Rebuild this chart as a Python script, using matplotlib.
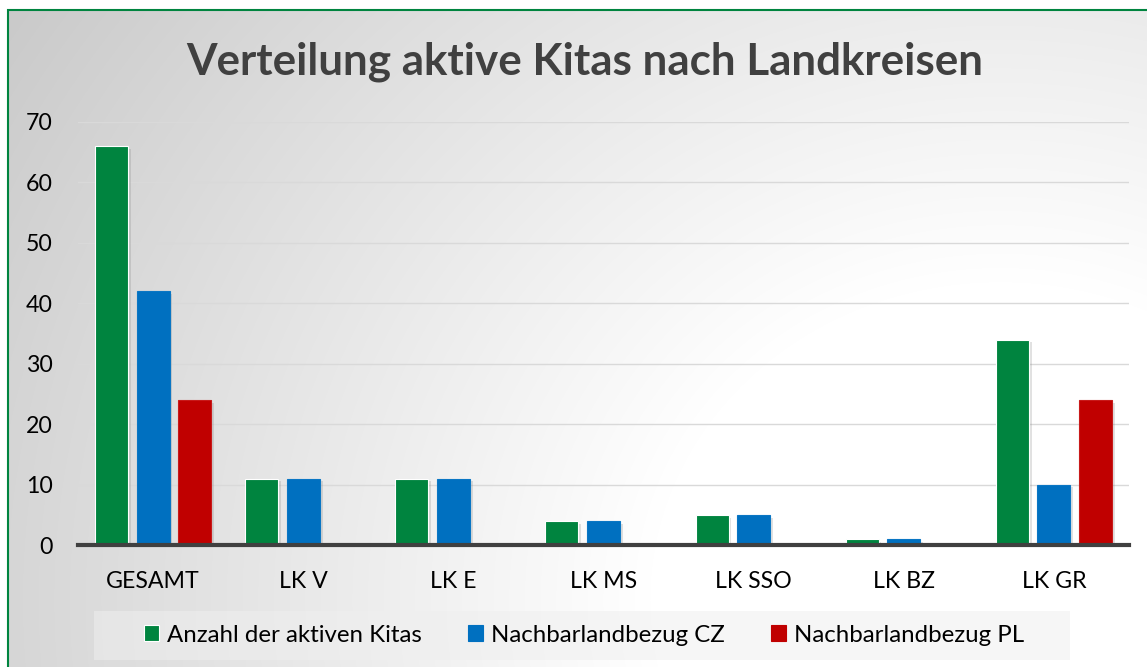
import numpy as np
import matplotlib
matplotlib.use("Agg")
import matplotlib.pyplot as plt
from matplotlib.patches import Rectangle, Patch
import matplotlib.patheffects as pe

matplotlib.rcParams['font.family'] = ['Lato', 'DejaVu Sans']

# data
categories = ['GESAMT', 'LK V', 'LK E', 'LK MS', 'LK SSO', 'LK BZ', 'LK GR']
series_names = ['Anzahl der aktiven Kitas', 'Nachbarlandbezug CZ', 'Nachbarlandbezug PL']
aktive = [66, 11, 11, 4, 5, 1, 34]
cz = [42, 11, 11, 4, 5, 1, 10]
pl = [24, np.nan, np.nan, np.nan, np.nan, np.nan, 24]
y_ticks = [0, 10, 20, 30, 40, 50, 60, 70]

COLORS = ['#00843F', '#0070C0', '#C00000']
EDGES = ['white', '#0a76c4', '#c81a1a']

W, H = 1147, 667
fig = plt.figure(figsize=(W / 100, H / 100), dpi=100)

# background: grey towards top-left, white around lower right
bg = fig.add_axes([0, 0, 1, 1], zorder=-10)
xx, yy = np.meshgrid(np.arange(W), np.arange(H))
d = np.hypot(xx - 1000, (yy - 600) * 1.1)
v = np.clip(1.0 - 0.20 * (d - 350) / 800, 0.79, 1.0)
img = np.dstack([v, v, v])
img[:10, :, :] = 1.0
img[:, :8, :] = 1.0
bg.imshow(img, extent=[0, 1, 0, 1], aspect='auto', origin='upper')
bg.set_axis_off()
bg.add_patch(Rectangle((8 / W, -0.05), 1.2, 1 - 10 / H + 0.05, fill=False,
                       edgecolor='#00843F', linewidth=1.5, transform=bg.transAxes))
# legend box
bg.add_patch(Rectangle((94 / W, (H - 660) / H), (1070 - 94) / W, 49 / H,
                       facecolor='#efefef', alpha=0.55, edgecolor='none',
                       transform=bg.transAxes))

ax = fig.add_axes([78 / W, (H - 545) / H, (1129 - 78) / W, (545 - 122) / H])
ax.patch.set_alpha(0)

x = np.arange(len(categories))
width = 0.22
step = 0.277
for i, (vals, col, ec) in enumerate(zip([aktive, cz, pl], COLORS, EDGES)):
    vals = np.array(vals, dtype=float)
    mask = ~np.isnan(vals)
    bars = ax.bar(x[mask] + (i - 1) * step, vals[mask], width=width, color=col,
                  edgecolor=ec, linewidth=0.8, zorder=3)
    for b in bars:
        b.set_path_effects([pe.SimplePatchShadow(offset=(2, -2), shadow_rgbFace='#888888', alpha=0.25),
                            pe.Normal()])

ax.set_xlim(-0.5, len(categories) - 0.5)
ax.set_ylim(0, 70)
ax.set_yticks(y_ticks)
ax.yaxis.grid(True, color='#d9d9d9', linewidth=1.0, zorder=0)
ax.set_axisbelow(True)
ax.axhline(0, color='#404040', linewidth=3, zorder=4, clip_on=False)

for sp in ax.spines.values():
    sp.set_visible(False)
ax.tick_params(axis='both', length=0, labelsize=16.7, colors='black')
ax.tick_params(axis='x', pad=19)
ax.tick_params(axis='y', pad=18)
ax.set_xticks(x)
ax.set_xticklabels(categories)

fig.text(0.51, 1 - 62 / H, 'Verteilung aktive Kitas nach Landkreisen', ha='center', va='center',
         fontsize=31.7, fontweight='bold', color='#404040')

handles = [Patch(facecolor=c, edgecolor=e, linewidth=0.8) for c, e in zip(COLORS, ['white', COLORS[1], COLORS[2]])]
leg = fig.legend(handles, series_names, loc='center', bbox_to_anchor=(584 / W, 1 - 635 / H),
                 ncol=3, fontsize=17.3, frameon=False, handlelength=0.6,
                 handleheight=0.6, handletextpad=0.33, columnspacing=1.95)

fig.savefig('out.png', dpi=100)
